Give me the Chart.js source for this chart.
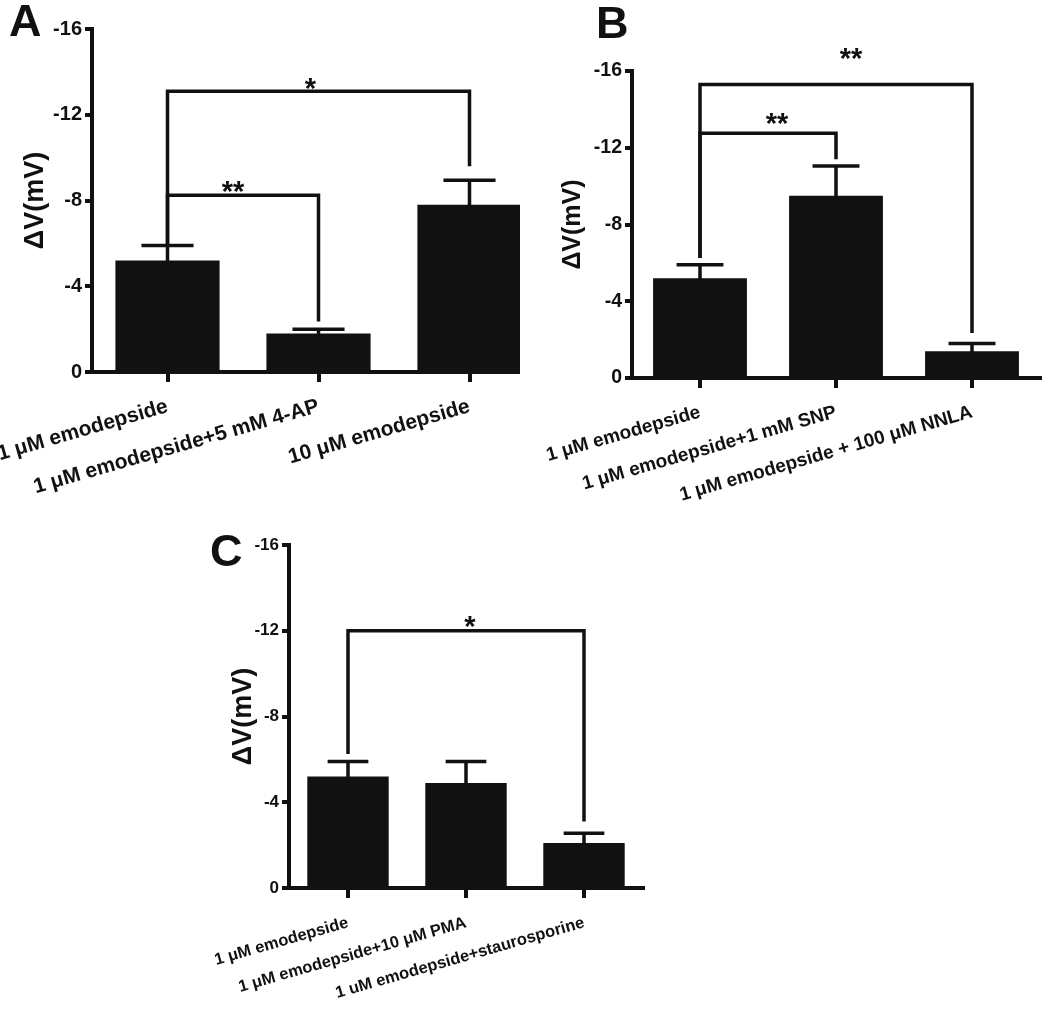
<!DOCTYPE html>
<html>
<head>
<meta charset="utf-8">
<script src="https://cdn.jsdelivr.net/npm/chart.js@4.4.1/dist/chart.umd.min.js"></script>
<style>
  body { margin: 0; background: #fff; width: 1050px; height: 1021px; position: relative; overflow: hidden; }
  .panel { position: absolute; overflow: hidden; }
  .letter { position: absolute; font: bold 45px 'Liberation Sans', Arial, sans-serif; line-height: 45px; color: #111; }
</style>
</head>
<body>
<div class="panel" style="left:0;top:0;width:520px;height:515px"><canvas id="chartA" width="560" height="515"></canvas></div>
<div class="panel" style="left:520px;top:0;width:530px;height:520px"><canvas id="chartB" width="530" height="520"></canvas></div>
<div class="panel" style="left:190px;top:515px;width:700px;height:506px"><canvas id="chartC" width="700" height="506"></canvas></div>
<div class="letter" style="left:9px;top:-2px">A</div>
<div class="letter" style="left:596px;top:0">B</div>
<div class="letter" style="left:210px;top:528px">C</div>
<script>
// panel A
const labelsA = ['1 \u03BCM emodepside', '1 \u03BCM emodepside+5 mM 4-AP', '10 \u03BCM emodepside'];
const meansA = [-5.2, -1.8, -7.8];
const errA = [0.7, 0.2, 1.15];
// bracket: [from, to, level, leg end at from, leg end at to, label]
const bracketsA = [
  [0, 2, -13.1, -5.95, -9.6, '*'],
  [0, 1, -8.25, -5.95, -2.35, '**']
];

// panel B
const labelsB = ['1 \u03BCM emodepside', '1 \u03BCM emodepside+1 mM SNP', '1 \u03BCM emodepside + 100 \u03BCM NNLA'];
const meansB = [-5.2, -9.5, -1.4];
const errB = [0.7, 1.55, 0.4];
const bracketsB = [
  [0, 2, -15.3, -6.25, -2.35, '**'],
  [0, 1, -12.75, -6.25, -11.4, '**']
];

// panel C
const labelsC = ['1 \u03BCM emodepside', '1 \u03BCM emodepside+10 \u03BCM PMA', '1 uM emodepside+staurosporine'];
const meansC = [-5.2, -4.9, -2.1];
const errC = [0.7, 1.0, 0.45];
const bracketsC = [
  [0, 2, -12, -6.25, -3.1, '*']
];

const yTicks = [-16, -12, -8, -4, 0];

const FONT = "'Liberation Sans', Arial, sans-serif";
const INK = '#111';

// error bars, drawn upward only
const errorBars = {
  id: 'errorBars',
  afterDatasetsDraw(chart, args, opts) {
    const ctx = chart.ctx;
    const y = chart.scales.y;
    chart.getDatasetMeta(0).data.forEach((bar, i) => {
      const top = y.getPixelForValue(opts.means[i] - opts.errors[i]);
      const half = bar.width * 0.25;
      ctx.save();
      ctx.strokeStyle = INK;
      ctx.lineWidth = 3.5;
      ctx.beginPath();
      ctx.moveTo(bar.x, bar.y + 2);
      ctx.lineTo(bar.x, top);
      ctx.moveTo(bar.x - half, top);
      ctx.lineTo(bar.x + half, top);
      ctx.stroke();
      ctx.restore();
    });
  }
};

// significance brackets
const brackets = {
  id: 'brackets',
  afterDatasetsDraw(chart, args, opts) {
    const ctx = chart.ctx;
    const xs = chart.scales.x, ys = chart.scales.y;
    opts.items.forEach((b, k) => {
      const st = opts.styles[k];
      const x1 = xs.getPixelForValue(b[0]);
      const x2 = xs.getPixelForValue(b[1]);
      const yl = ys.getPixelForValue(b[2]);
      ctx.save();
      ctx.strokeStyle = INK;
      ctx.lineWidth = 3.5;
      ctx.lineJoin = 'miter';
      ctx.beginPath();
      ctx.moveTo(x1, ys.getPixelForValue(b[3]));
      ctx.lineTo(x1, yl);
      ctx.lineTo(x2, yl);
      ctx.lineTo(x2, ys.getPixelForValue(b[4]));
      ctx.stroke();
      ctx.fillStyle = INK;
      ctx.font = 'bold 29px ' + FONT;
      ctx.textAlign = 'center';
      ctx.textBaseline = 'alphabetic';
      ctx.fillText(b[5], (x1 + x2) / 2 + st.dx, yl - st.gap + 11);
      ctx.restore();
    });
  }
};

function makeChart(id, labels, means, errs, items, styles, box) {
  return new Chart(document.getElementById(id), {
    type: 'bar',
    data: {
      labels: labels,
      datasets: [{
        data: means,
        backgroundColor: INK,
        borderWidth: 0,
        barPercentage: 0.69,
        categoryPercentage: 1
      }]
    },
    options: {
      responsive: false,
      animation: false,
      layout: { padding: box.padding },
      plugins: {
        legend: { display: false },
        tooltip: { enabled: false },
        errorBars: { means: means, errors: errs },
        brackets: { items: items, styles: styles }
      },
      scales: {
        x: {
          offset: true,
          grid: { drawOnChartArea: false, drawTicks: true, tickLength: 10, offset: false, color: INK, lineWidth: 4 },
          border: { display: true, color: INK, width: 4 },
          ticks: {
            color: INK,
            font: { family: FONT, size: box.labelSize, weight: 'bold' },
            minRotation: 16,
            maxRotation: 16,
            autoSkip: false,
            padding: box.labelPad
          },
          afterFit: s => { s.height = box.xHeight; s.paddingLeft = 0; s.paddingRight = 0; }
        },
        y: {
          min: -16,
          max: 0,
          reverse: true,
          afterBuildTicks: s => { s.ticks = yTicks.map(v => ({ value: v })); },
          grid: { drawOnChartArea: false, drawTicks: true, tickLength: 7, color: INK, lineWidth: 4 },
          border: { display: true, color: INK, width: 4 },
          ticks: {
            color: INK,
            font: { family: FONT, size: box.tickSize, weight: 'bold' },
            padding: 3
          },
          title: {
            display: true,
            text: '\u0394V(mV)',
            color: INK,
            font: { family: FONT, size: box.titleSize, weight: 'bold' },
            padding: 0
          },
          afterFit: s => { s.width = box.yWidth; s.paddingTop = 0; s.paddingBottom = 0; }
        }
      }
    },
    plugins: [errorBars, brackets]
  });
}

makeChart('chartA', labelsA, meansA, errA, bracketsA,
  [{ dx: -8, gap: 4 }, { dx: -10, gap: 5 }],
  { padding: { left: 19, top: 29, right: 15, bottom: 0 }, yWidth: 73, xHeight: 143,
    labelSize: 21, labelPad: 12, tickSize: 20, titleSize: 27 });

makeChart('chartB', labelsB, meansB, errB, bracketsB,
  [{ dx: 15, gap: 27 }, { dx: 9, gap: 11 }],
  { padding: { left: 38, top: 71, right: 10, bottom: 0 }, yWidth: 74, xHeight: 142,
    labelSize: 19, labelPad: 13, tickSize: 19.5, titleSize: 25 });

makeChart('chartC', labelsC, meansC, errC, bracketsC,
  [{ dx: 4, gap: 6 }],
  { padding: { left: 37, top: 30, right: 247, bottom: 0 }, yWidth: 62, xHeight: 133,
    labelSize: 16.5, labelPad: 15, tickSize: 17, titleSize: 27 });
</script>
</body>
</html>
